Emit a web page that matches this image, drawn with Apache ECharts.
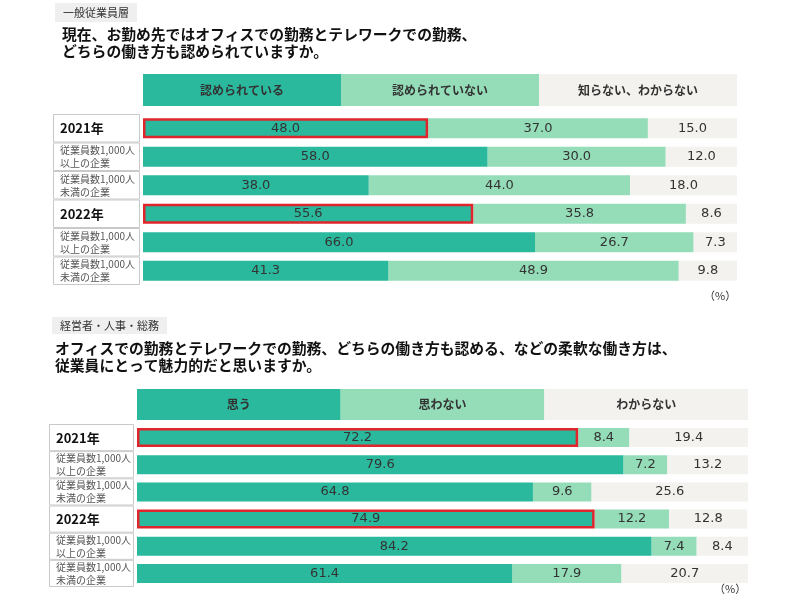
<!DOCTYPE html>
<html>
<head>
<meta charset="utf-8">
<script src="https://cdn.jsdelivr.net/npm/echarts@6/dist/echarts.min.js"></script>
<style>
    html, body { margin: 0; padding: 0; background: #fff; }
    #main { width: 800px; height: 600px; }
</style>
</head>
<body>
<div id="main"></div>
<script>
// 行ラベル
let rowLabels = ['2021年', '従業員数1,000人\n以上の企業', '従業員数1,000人\n未満の企業',
    '2022年', '従業員数1,000人\n以上の企業', '従業員数1,000人\n未満の企業'];
let yearRows = [0, 3];

// 一般従業員層
let topHeaders = ['認められている', '認められていない', '知らない、わからない'];
let topYes = [48.0, 58.0, 38.0, 55.6, 66.0, 41.3];
let topNo = [37.0, 30.0, 44.0, 35.8, 26.7, 48.9];
let topUnknown = [15.0, 12.0, 18.0, 8.6, 7.3, 9.8];

// 経営者・人事・総務
let bottomHeaders = ['思う', '思わない', 'わからない'];
let bottomYes = [72.2, 79.6, 64.8, 74.9, 84.2, 61.4];
let bottomNo = [8.4, 7.2, 9.6, 12.2, 7.4, 17.9];
let bottomUnknown = [19.4, 13.2, 25.6, 12.8, 8.4, 20.7];

let colors = ['#2bb99e', '#94ddb8', '#f4f2ee'];
let jp = 'Noto Sans CJK JP';

let chart = echarts.init(document.getElementById('main'));

function headerSeries(grid, names) {
    return names.map(function (name, i) {
        return {
            name: name,
            type: 'bar',
            stack: 'h' + grid,
            xAxisIndex: grid,
            yAxisIndex: grid,
            barWidth: '100%',
            silent: true,
            itemStyle: { color: colors[i] },
            label: {
                show: true,
                position: 'inside',
                formatter: name,
                color: '#333',
                fontSize: 12,
                fontWeight: 'bold',
                fontFamily: jp
            },
            data: [1]
        };
    });
}

function dataSeries(grid, lists, names) {
    return lists.map(function (values, i) {
        return {
            name: names[i],
            type: 'bar',
            stack: 'd' + grid,
            xAxisIndex: grid,
            yAxisIndex: grid,
            barWidth: '70%',
            silent: true,
            z: i === 0 ? 3 : 2,
            itemStyle: { color: colors[i] },
            label: {
                show: true,
                position: 'inside',
                color: '#333',
                fontSize: 13,
                fontFamily: 'DejaVu Sans',
                formatter: function (p) {
                    return p.value.toFixed(1);
                }
            },
            data: values.map(function (v, idx) {
                // 年合計の行は赤枠
                if (i === 0 && yearRows.indexOf(idx) >= 0) {
                    return { value: v, itemStyle: { borderColor: '#e0262c', borderWidth: 2.5 } };
                }
                return v;
            })
        };
    });
}

function tableSeries(grid) {
    return {
        type: 'bar',
        xAxisIndex: grid,
        yAxisIndex: grid,
        barWidth: '100%',
        silent: true,
        itemStyle: { color: '#fff', borderColor: '#c9c9c9', borderWidth: 1 },
        label: {
            show: true,
            position: 'insideLeft',
            distance: 7,
            formatter: function (p) {
                if (yearRows.indexOf(p.dataIndex) >= 0) {
                    return '{y|' + p.name + '}';
                }
                return '{s|' + p.name + '}';
            },
            rich: {
                y: { fontSize: 13, fontWeight: 'bold', color: '#111', fontFamily: jp },
                s: { fontSize: 10, color: '#555', lineHeight: 13, fontFamily: jp }
            }
        },
        data: rowLabels.map(function () { return 1; })
    };
}

let grids = [
    { left: 143, top: 74, width: 594, height: 32 },
    { left: 143, top: 114, width: 594, height: 171 },
    { left: 53, top: 114, width: 87, height: 171 },
    { left: 137, top: 389, width: 611, height: 31 },
    { left: 137, top: 424, width: 611, height: 163 },
    { left: 49, top: 424, width: 85, height: 163 }
];
let xMax = [3, 100, 1, 3, 100, 1];

let option = {
    animation: false,
    backgroundColor: '#fff',
    textStyle: { fontFamily: jp },
    title: [
        {
            text: '一般従業員層', left: 55, top: 3, padding: [4, 8],
            backgroundColor: '#efefef',
            textStyle: { fontSize: 11, fontWeight: 'normal', color: '#333', fontFamily: jp }
        },
        {
            text: '現在、お勤め先ではオフィスでの勤務とテレワークでの勤務、\nどちらの働き方も認められていますか。',
            left: 62, top: 26, padding: 0,
            textStyle: { fontSize: 14.8, fontWeight: 'bold', color: '#111', lineHeight: 17, fontFamily: jp }
        },
        {
            text: '経営者・人事・総務', left: 52, top: 317, padding: [3, 8],
            backgroundColor: '#efefef',
            textStyle: { fontSize: 11, fontWeight: 'normal', color: '#333', fontFamily: jp }
        },
        {
            text: 'オフィスでの勤務とテレワークでの勤務、どちらの働き方も認める、などの柔軟な働き方は、\n従業員にとって魅力的だと思いますか。',
            left: 55, top: 340, padding: 0,
            textStyle: { fontSize: 14.8, fontWeight: 'bold', color: '#111', lineHeight: 17, fontFamily: jp }
        },
        {
            text: '（%）', left: 704, top: 290, padding: 0,
            textStyle: { fontSize: 11, fontWeight: 'normal', color: '#333', fontFamily: jp }
        },
        {
            text: '（%）', left: 714, top: 583, padding: 0,
            textStyle: { fontSize: 11, fontWeight: 'normal', color: '#333', fontFamily: jp }
        }
    ],
    grid: grids,
    xAxis: xMax.map(function (m, i) {
        return { type: 'value', gridIndex: i, min: 0, max: m, show: false };
    }),
    yAxis: grids.map(function (g, i) {
        let isHeader = (i === 0 || i === 3);
        return {
            type: 'category',
            gridIndex: i,
            inverse: true,
            show: false,
            data: isHeader ? ['h'] : rowLabels
        };
    }),
    series: [].concat(
        headerSeries(0, topHeaders),
        dataSeries(1, [topYes, topNo, topUnknown], topHeaders),
        [tableSeries(2)],
        headerSeries(3, bottomHeaders),
        dataSeries(4, [bottomYes, bottomNo, bottomUnknown], bottomHeaders),
        [tableSeries(5)]
    )
};
chart.setOption(option);
</script>
</body>
</html>
